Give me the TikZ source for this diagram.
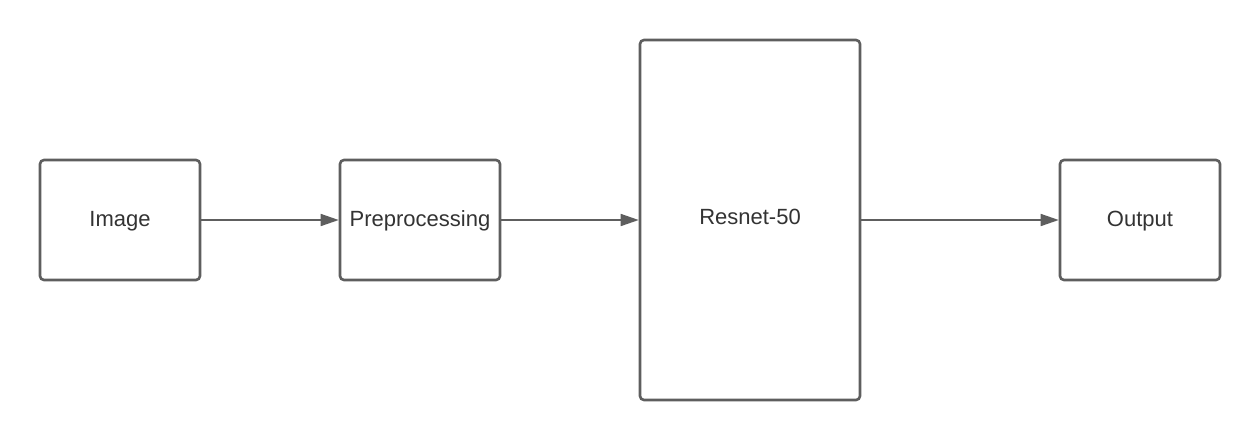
\documentclass[tikz,border=0pt]{standalone}
\usepackage{fontspec}
\setmainfont{Liberation Sans}
\usetikzlibrary{arrows.meta}
\definecolor{edgegray}{HTML}{5E5E5E}
\definecolor{txtgray}{HTML}{333333}
\begin{document}
\begin{tikzpicture}[x=1pt,y=-1pt,
  blockbox/.style={draw=edgegray, line width=2.6pt, rounded corners=4pt, fill=white,
    text=txtgray, font=\fontsize{22}{26}\selectfont, inner sep=0pt,
    text height=17pt, text depth=4pt, align=center},
  conn/.style={draw=edgegray, line width=1.6pt, -{Triangle[length=18pt,width=12pt]}}]
\useasboundingbox (0,0) rectangle (1260,440);
\fill[white] (0,0) rectangle (1260,440);
\node[blockbox, minimum width=160pt, minimum height=120pt] (img) at (120,220) {Image};
\node[blockbox, minimum width=160pt, minimum height=120pt, text depth=5pt] (pre) at (420,220) {Preprocessing};
\node[blockbox, minimum width=220pt, minimum height=360pt, text depth=9pt] (res) at (750,220) {Resnet-50};
\node[blockbox, minimum width=160pt, minimum height=120pt] (out) at (1140,220) {Output};
\draw[conn] (img.east) -- (pre.west);
\draw[conn] (pre.east) -- (res.west);
\draw[conn] (res.east) -- (out.west);
\end{tikzpicture}
\end{document}
